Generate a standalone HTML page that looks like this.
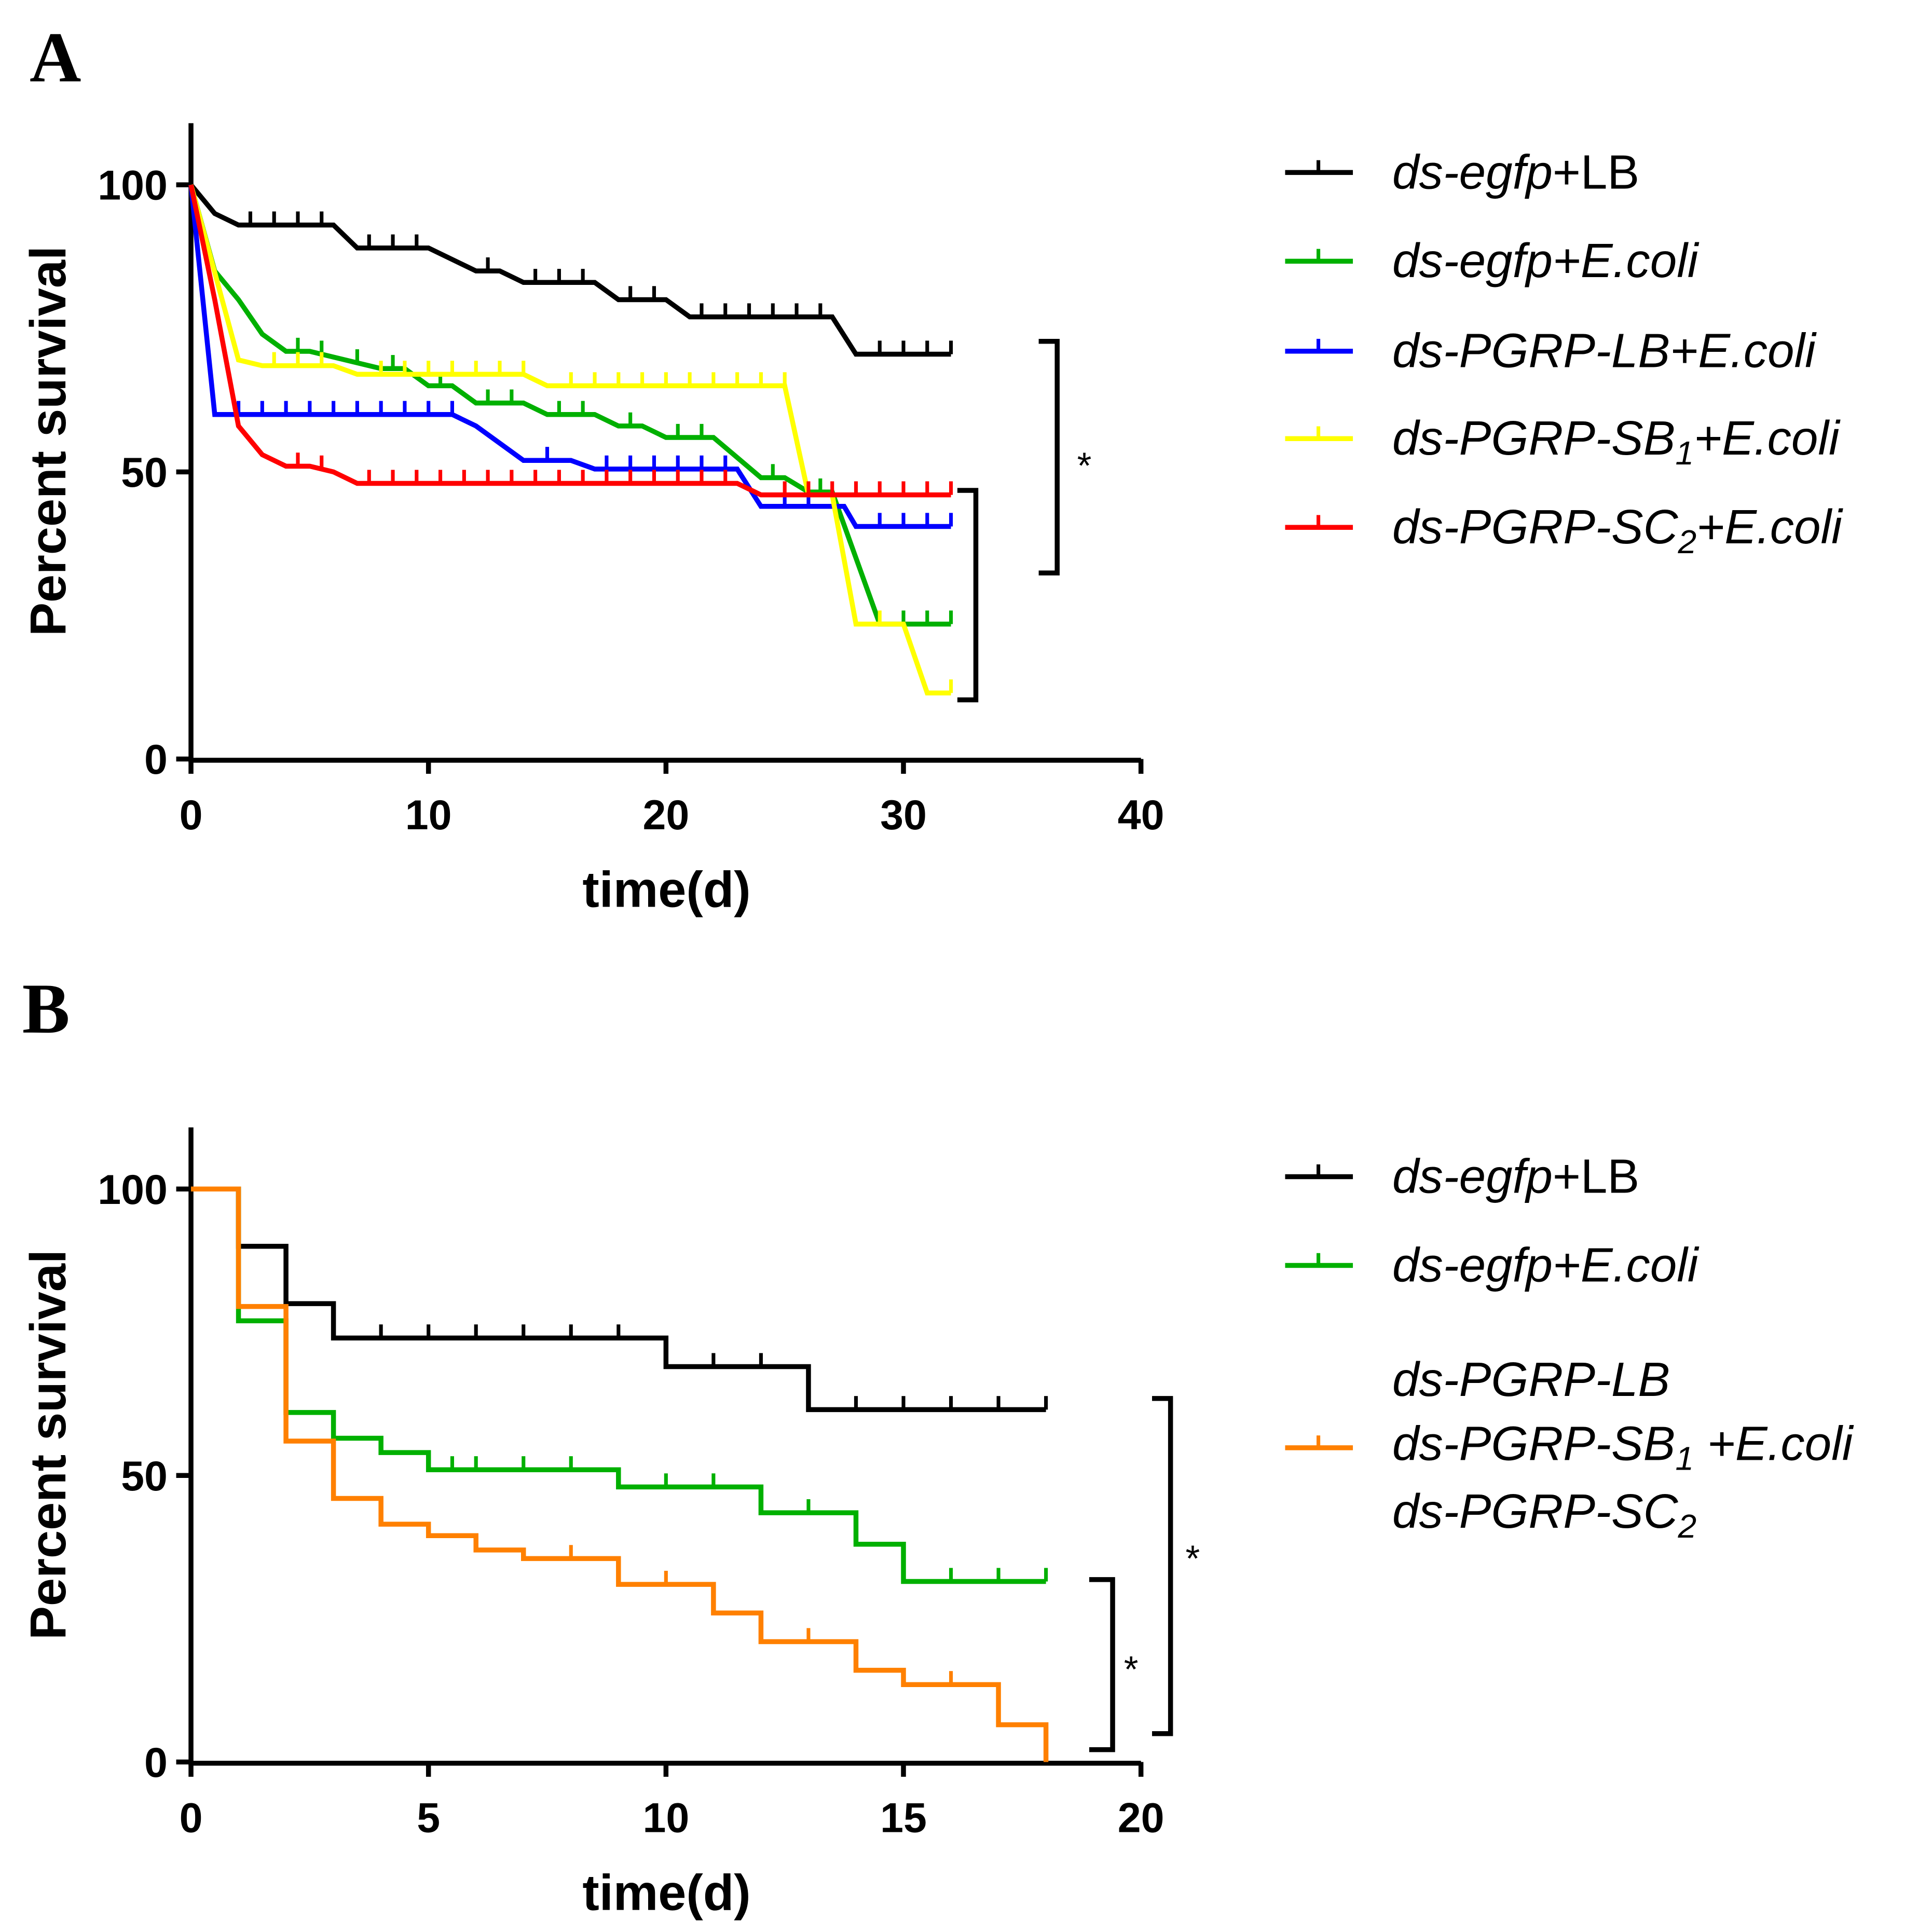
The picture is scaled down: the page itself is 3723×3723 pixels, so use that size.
<!DOCTYPE html>
<html><head><meta charset="utf-8"><style>
html,body{margin:0;padding:0;background:#fff}
svg{display:block}
text{font-family:"Liberation Sans",sans-serif}
text.serif{font-family:"Liberation Serif",serif}
</style></head><body>
<svg id="c" width="3723" height="3723" viewBox="0 0 1568 1568" xmlns="http://www.w3.org/2000/svg">
<g id="A"></g>
<g id="B"></g>
</svg>
<script>
// Panel A data (day, percent)
const aBlack=[[0,100],[1,95],[2,93],[6,93],[7,89],[10,89],[12,85],[13,85],[14,83],[17,83],[18,80],[20,80],[21,77],[27,77],[28,70.5],[32,70.5]];
const aGreen=[[0,100],[1,85],[2,80],[3,74],[4,71],[5,71],[6,70],[8,68],[9,68],[10,65],[11,65],[12,62],[14,62],[15,60],[17,60],[18,58],[19,58],[20,56],[22,56],[24,49],[25,49],[26,46.5],[27,46.5],[29,23.5],[32,23.5]];
const aBlue=[[0,100],[1,60],[11,60],[12,58],[14,52],[16,52],[17,50.5],[23,50.5],[24,44],[27.5,44],[28,40.5],[32,40.5]];
const aYellow=[[0,100],[2,69.5],[3,68.5],[6,68.5],[7,67],[14,67],[15,65],[25,65],[26,46],[27,46],[28,23.5],[30,23.5],[31,11.5],[32,11.5]];
const aRed=[[0,100],[1,80],[2,58],[3,53],[4,51],[5,51],[6,50],[7,48],[23,48],[24,46],[32,46]];
const aBlackTicks=[2.5,3.5,4.5,5.5,7.5,8.5,9.5,12.5,14.5,15.5,16.5,18.5,19.5,21.5,22.5,23.5,24.5,25.5,26.5,29,30,31,32];
const aGreenTicks=[4.5,5.5,7,8.5,10.5,12.5,13.5,15.5,16.5,18.5,20.5,21.5,24.5,26.5,30,31,32];
const aBlueTicks=[2,3,4,5,6,7,8,9,10,11,15,17.5,18.5,19.5,20.5,21.5,22.5,25,26,29,30,31,32];
const aYellowTicks=[3.5,4.5,5.5,8,9,10,11,12,13,14,16,17,18,19,20,21,22,23,24,25,29,32];
const aRedTicks=[4.5,5.5,7.5,8.5,9.5,10.5,11.5,12.5,13.5,14.5,15.5,16.5,17.5,18.5,19.5,20.5,21.5,22.5,25,26,27,28,29,30,31,32];
// Panel B data (step: change day, new value)
const bBlack=[[0,100],[1,90],[2,80],[3,74],[10,69],[13,61.5],[18,61.5]];
const bGreen=[[0,100],[1,77],[2,61],[3,56.5],[4,54],[5,51],[9,48],[12,43.5],[14,38],[15,31.5],[18,31.5]];
const bOrange=[[0,100],[1,79.5],[2,56],[3,46],[4,41.5],[5,39.5],[6,37],[7,35.5],[9,31],[11,26],[12,21],[14,16],[15,13.5],[17,6.5],[18,0]];
const bBlackTicks=[4,5,6,7,8,9,11,12,14,15,16,17,18];
const bGreenTicks=[5.5,6,7,8,10,11,13,16,17,18];
const bOrangeTicks=[8,10,13,16,18];
const aXTicks=[0,10,20,30,40], bXTicks=[0,5,10,15,20], yTicks=[0,50,100];

const NS="http://www.w3.org/2000/svg";
function mk(p,tag,at,txt){const e=document.createElementNS(NS,tag);for(const k in at)e.setAttribute(k,at[k]);if(txt!==undefined)e.textContent=txt;p.appendChild(e);return e;}
function panel(g,o){
 const X=d=>155+d*(771/o.xmax), Y=v=>o.y0-(v/100)*(o.y0-o.y100);
 const ax=mk(g,'path',{d:`M155,${o.top}V${o.y0+1}H926`,stroke:'#000','stroke-width':4,fill:'none'});
 
 
 o.xt.forEach(t=>{const l=mk(g,'line',{x1:X(t),x2:X(t),y1:o.y0,y2:o.y0+12,stroke:'#000','stroke-width':4});
  
  
  const tx=mk(g,'text',{x:X(t),y:o.y0+57,'text-anchor':'middle','font-size':34,'font-weight':'bold'},t);
  
  });
 yTicks.forEach(t=>{const l=mk(g,'line',{x1:143,x2:155,y1:Y(t),y2:Y(t),stroke:'#000','stroke-width':4});
  
  
  const tx=mk(g,'text',{x:136,y:Y(t)+12,'text-anchor':'end','font-size':34,'font-weight':'bold'},t);
  
  });
 const yl=mk(g,'text',{x:0,y:0,transform:`translate(53,${(o.y0+o.top)/2}) rotate(-90)`,'text-anchor':'middle','font-size':41,'font-weight':'bold'},'Percent survival');
 
 
 const xl=mk(g,'text',{x:541,y:o.y0+120,'text-anchor':'middle','font-size':41,'font-weight':'bold'},'time(d)');
 
 
 o.series.forEach(s=>{
  let pts;
  if(o.step){pts=[];s.d.forEach((p,i)=>{if(i>0)pts.push([p[0],s.d[i-1][1]]);pts.push(p);});}else pts=s.d;
  const ln=mk(g,'polyline',{points:pts.map(p=>X(p[0])+','+Y(p[1])).join(' '),stroke:s.c,'stroke-width':4,fill:'none','stroke-linejoin':'miter'});
  
  
  s.t.forEach(t=>{let v=pts[0][1];for(const p of pts){if(p[0]<=t)v=p[1];}
   if(!o.step){for(let i=1;i<pts.length;i++){if(pts[i-1][0]<=t&&t<=pts[i][0]){const a=pts[i-1],b=pts[i];v=a[1]+(b[1]-a[1])*(b[0]===a[0]?0:(t-a[0])/(b[0]-a[0]));break;}}}
   const tk=mk(g,'line',{x1:X(t),x2:X(t),y1:Y(v),y2:Y(v)-11,stroke:s.c,'stroke-width':3});
   
   });
 });
 o.leg.forEach(L=>{const l=mk(g,'line',{x1:1043,x2:1098,y1:L.y,y2:L.y,stroke:L.c,'stroke-width':4});
  
  
  const tk=mk(g,'line',{x1:1070,x2:1070,y1:L.y,y2:L.y-10,stroke:L.c,'stroke-width':3});
  
  
  L.lines.forEach((h,i)=>{const t=mk(g,'text',{x:1130,y:L.ty[i],'font-size':39});t.innerHTML=h;
   
   });});
 o.br.forEach(b=>{const p=mk(g,'path',{d:`M${b.x0},${b.y1}H${b.x}V${b.y2}H${b.x0}`,stroke:'#000','stroke-width':4,fill:'none'});
  
  
  if(b.s){const t=mk(g,'text',{x:b.sx,y:b.sy,'font-size':30,'text-anchor':'middle'},'*');
   
   }});
}
const I=s=>`<tspan font-style="italic">${s}</tspan>`;
const gA=document.getElementById('A'),gB=document.getElementById('B');
const la=mk(gA,'text',{x:24,y:66,'font-size':58,'font-weight':'bold','class':'serif'},'A');


const lb=mk(gB,'text',{x:18,y:838,'font-size':58,'font-weight':'bold','class':'serif'},'B');


panel(gA,{xmax:40,y0:616,y100:150,top:100,xt:aXTicks,step:false,
 series:[{n:'ds-egfp-lb',c:'#000',d:aBlack,t:aBlackTicks},{n:'ds-egfp-ecoli',c:'#00b000',d:aGreen,t:aGreenTicks},{n:'ds-pgrp-lb',c:'#0000ff',d:aBlue,t:aBlueTicks},{n:'ds-pgrp-sb1',c:'#ffff00',d:aYellow,t:aYellowTicks},{n:'ds-pgrp-sc2',c:'#ff0000',d:aRed,t:aRedTicks}],
 leg:[{y:140,c:'#000',lines:[I('ds-egfp')+'+LB'],ty:[153]},{y:212,c:'#00b000',lines:[I('ds-egfp+E.coli')],ty:[225]},{y:285,c:'#0000ff',lines:[I('ds-PGRP-LB+E.coli')],ty:[298]},{y:356,c:'#ffff00',lines:[I('ds-PGRP-SB<tspan font-size="27" dy="8">1</tspan><tspan dy="-8">+E.coli</tspan>')],ty:[369]},{y:428,c:'#ff0000',lines:[I('ds-PGRP-SC<tspan font-size="27" dy="8">2</tspan><tspan dy="-8">+E.coli</tspan>')],ty:[441]}],
 br:[{x0:843,x:858,y1:277,y2:465,s:1,sx:880,sy:388},{x0:777,x:792,y1:398,y2:568}]});
panel(gB,{xmax:20,y0:1430,y100:965,top:915,xt:bXTicks,step:true,
 series:[{n:'ds-egfp-lb',c:'#000',d:bBlack,t:bBlackTicks},{n:'ds-egfp-ecoli',c:'#00b000',d:bGreen,t:bGreenTicks},{n:'ds-pgrp-triple',c:'#ff8000',d:bOrange,t:bOrangeTicks}],
 leg:[{y:955,c:'#000',lines:[I('ds-egfp')+'+LB'],ty:[968]},{y:1027,c:'#00b000',lines:[I('ds-egfp+E.coli')],ty:[1040]},{y:1175,c:'#ff8000',lines:[I('ds-PGRP-LB'),I('ds-PGRP-SB<tspan font-size="27" dy="8">1</tspan><tspan dy="-8"> +E.coli</tspan>'),I('ds-PGRP-SC<tspan font-size="27" dy="8">2</tspan>')],ty:[1133,1185,1240]}],
 br:[{x0:935,x:950,y1:1135,y2:1407,s:1,sx:968,sy:1275},{x0:884,x:903,y1:1282,y2:1420,s:1,sx:918,sy:1365}]});
</script>
</body></html>
